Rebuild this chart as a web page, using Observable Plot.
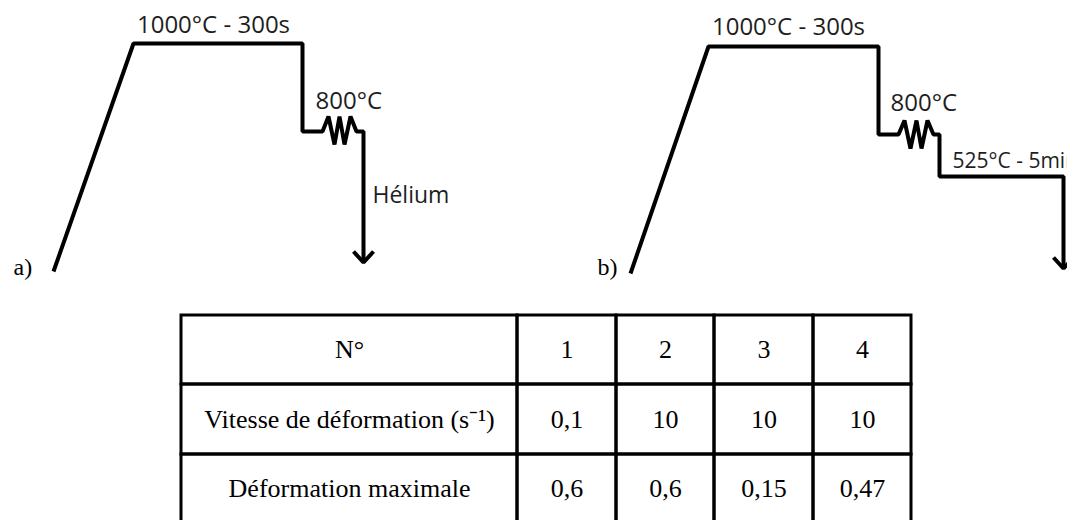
<!DOCTYPE html>
<html>
<head>
<meta charset="utf-8">
<script src="https://cdn.jsdelivr.net/npm/d3@7"></script>
<script src="https://cdn.jsdelivr.net/npm/@observablehq/plot@0.6"></script>
<style>
  html, body { margin: 0; padding: 0; background: #fff; overflow: hidden; }
  #chart svg { display: block; }
</style>
</head>
<body>
<div id="chart"></div>
<script>
// ---- Thermal cycles (schematic: [time, depth] points of each cycle, panel-relative) ----
const cycleA = [[53,271],[133,43],[302,43],[302,131],[322,131],[328,116],[334,144],[339,116],[344,144],[350,116],[356,131],[363,131],[363,262]];
const cycleB = [[54,270],[132,43],[302,43],[302,131],[322,131],[328,117],[334,145],[340,117],[345,145],[351,117],[357,131],[363,131],[363,173],[487,173],[487,265]];
const arrowA = [[353,251],[363,262],[373,251]];
const arrowB = [[477,254],[487,265],[497,254]];
const labelsA = ["1000°C - 300s", "800°C", "Hélium"];
const labelsB = ["1000°C - 300s", "800°C", "525°C - 5min"];
const panelNames = ["a)", "b)"];

// ---- Table ----
const rowHeaders = ["N°", "Vitesse de déformation (s⁻¹)", "Déformation maximale"];
const runs = ["1", "2", "3", "4"];
const strainRates = ["0,1", "10", "10", "10"];
const maxStrains = ["0,6", "0,6", "0,15", "0,47"];

// ---- Layout (pixels) ----
const W = 1067, H = 520;
const panels = [{dx: 0, dy: 0}, {dx: 576, dy: 3}];
const labelLayoutA = [
  {x: 213, y: 32, anchor: "middle", size: 24},
  {x: 315, y: 108, anchor: "start", size: 24},
  {x: 372, y: 202, anchor: "start", size: 23}
];
const labelLayoutB = [
  {x: 212, y: 31, anchor: "middle", size: 24},
  {x: 314, y: 107, anchor: "start", size: 24},
  {x: 376, y: 164, anchor: "start", size: 21}
];
const panelNameLayout = [{x: 13, y: 274}, {x: 597, y: 274}];
const colEdges = [181, 517, 616, 714, 813, 911];
const rowEdges = [315, 384, 454, 523];

const shift = (pts, p) => pts.map(([x, y]) => ({x: x + p.dx, y: y + p.dy}));
const labelRows = (texts, layout, p) => texts.map((t, i) => ({text: t, x: layout[i].x + p.dx, y: layout[i].y + p.dy, anchor: layout[i].anchor, size: layout[i].size}));

const tableRows = [
  [rowHeaders[0], ...runs],
  [rowHeaders[1], ...strainRates],
  [rowHeaders[2], ...maxStrains]
];
const cells = [];
tableRows.forEach((row, r) => row.forEach((t, c) => cells.push({
  text: t, x1: colEdges[c], x2: colEdges[c + 1], y1: rowEdges[r], y2: rowEdges[r + 1]
})));

const lineStyle = {x: "x", y: "y", stroke: "black", strokeWidth: 4, strokeLinejoin: "miter", strokeLinecap: "butt", curve: "linear"};
const labels = [...labelRows(labelsA, labelLayoutA, panels[0]), ...labelRows(labelsB, labelLayoutB, panels[1])];
const textColor = "#1e1e1e";

const chart = Plot.plot({
  width: W, height: H, margin: 0,
  x: {domain: [0, W], range: [0, W], axis: null},
  y: {domain: [0, H], range: [0, H], axis: null},
  style: {background: "white"},
  marks: [
    Plot.line(shift(cycleA, panels[0]), lineStyle),
    Plot.line(shift(cycleB, panels[1]), {...lineStyle, clip: true}),
    Plot.line(shift(arrowA, panels[0]), lineStyle),
    Plot.line(shift(arrowB, panels[1]), {...lineStyle, clip: true}),
    ...labels.map(d => Plot.text([d], {
      x: "x", y: "y", text: "text", textAnchor: d.anchor, lineAnchor: "bottom",
      fontFamily: "'Open Sans', sans-serif", fontSize: d.size, fill: textColor, clip: true
    })),
    Plot.text(panelNames.map((t, i) => ({text: t, ...panelNameLayout[i]})), {
      x: "x", y: "y", text: "text", textAnchor: "start", lineAnchor: "bottom",
      fontFamily: "'Liberation Serif', 'Times New Roman', serif", fontSize: 24, fill: "black"
    }),
    Plot.rect(cells, {x1: "x1", x2: "x2", y1: "y1", y2: "y2", fill: "none", stroke: "black", strokeWidth: 3}),
    Plot.text(cells, {
      x: d => (d.x1 + d.x2) / 2, y: d => (d.y1 + d.y2) / 2, text: "text",
      fontFamily: "'Liberation Serif', 'Times New Roman', serif", fontSize: 26, fill: "black"
    })
  ]
});
document.getElementById("chart").appendChild(chart);
</script>
</body>
</html>
